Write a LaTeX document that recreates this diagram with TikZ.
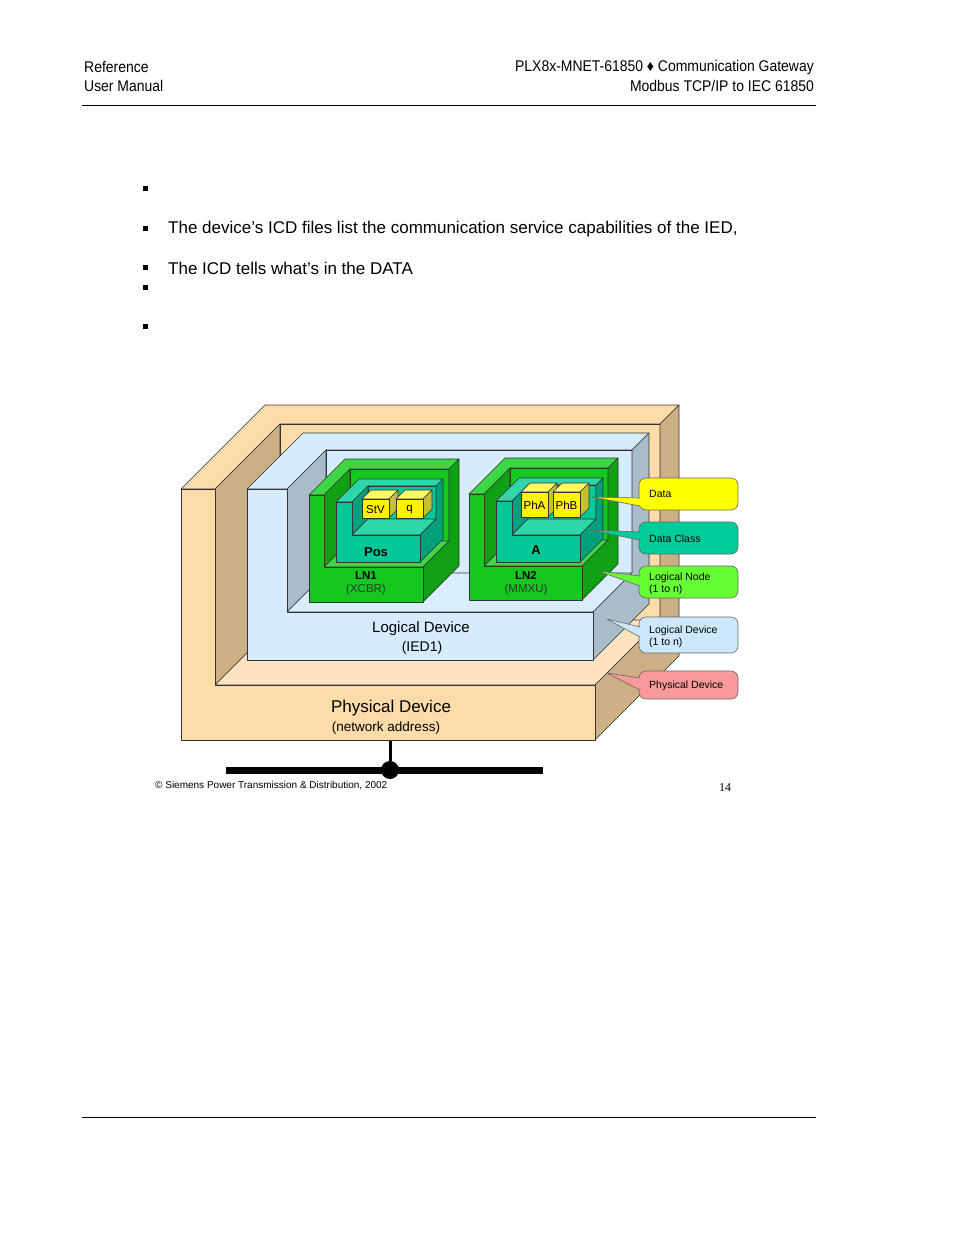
\documentclass[tikz,border=0pt]{standalone}
\usepackage{fontspec}
\setmainfont{Liberation Sans}
\newfontfamily\serifz{Liberation Serif}
\definecolor{pdFront}{HTML}{FDDCAA}\definecolor{pdTop}{HTML}{FDDCAA}\definecolor{pdSide}{HTML}{CDAF86}\definecolor{pdFloor}{HTML}{FEE3BE}
\definecolor{ldFront}{HTML}{D4ECFB}\definecolor{ldTop}{HTML}{D4ECFB}\definecolor{ldSide}{HTML}{A8BCCA}\definecolor{ldFloor}{HTML}{D8EEFC}
\definecolor{lnFront}{HTML}{14C81E}\definecolor{lnTop}{HTML}{3DD645}\definecolor{lnSide}{HTML}{10A014}\definecolor{lnFloor}{HTML}{3DD645}
\definecolor{dcFront}{HTML}{00C998}\definecolor{dcTop}{HTML}{2ED6AA}\definecolor{dcSide}{HTML}{00A07A}\definecolor{dcFloor}{HTML}{2ED6AA}
\definecolor{cData}{HTML}{FFFF00}\definecolor{cDC}{HTML}{00CC99}\definecolor{cLN}{HTML}{66FF33}\definecolor{cLD}{HTML}{CCE8FA}\definecolor{cPD}{HTML}{F99A9A}
% cupbox: X0,Y0,X1,Y1,d,t,w,f,prefix
\newcommand\cupbox[9]{%
 \filldraw[face,fill=#9Top] (#1,#2)--({#1+#5},{#2-#5})--({#3+#5},{#2-#5})--({#3+#5-#6},{#2-#5+#6})--({#1+#7+#5-#6},{#2-#5+#6})--({#1+#7},#2)--cycle;
 \filldraw[face,fill=#9Side] ({#1+#7},#2)--({#1+#7+#5-#6},{#2-#5+#6})--({#1+#7+#5-#6},{#4-#8-#5+#6})--({#1+#7},{#4-#8})--cycle;
 \filldraw[face,fill=#9Front] ({#1+#7+#5-#6},{#2-#5+#6}) rectangle ({#3+#5-#6},{#4-#8-#5+#6});
 \filldraw[face,fill=#9Floor] ({#1+#7},{#4-#8})--({#1+#7+#5-#6},{#4-#8-#5+#6})--({#3+#5-#6},{#4-#8-#5+#6})--(#3,{#4-#8})--cycle;
 \filldraw[face,fill=#9Side] ({#3+#5-#6},{#2-#5+#6})--({#3+#5},{#2-#5})--({#3+#5},{#4-#5})--(#3,#4)--(#3,{#4-#8})--({#3+#5-#6},{#4-#8-#5+#6})--cycle;
 \filldraw[face,fill=#9Front] (#1,#2)--({#1+#7},#2)--({#1+#7},{#4-#8})--(#3,{#4-#8})--(#3,#4)--(#1,#4)--cycle;
}
% cube: x0,y0,x1,y1,d,text,name
\newcommand\ycube[7]{%
 \filldraw[face,fill=yellow!60] (#1,#2)--({#1+#5},{#2-#5})--({#3+#5},{#2-#5})--(#3,#2)--cycle;
 \filldraw[face,fill=yellow!75!black] (#3,#2)--({#3+#5},{#2-#5})--({#3+#5},{#4-#5})--(#3,#4)--cycle;
 \filldraw[face,fill=yellow] (#1,#2) rectangle (#3,#4);
 \node[font=\fontsize{11.5}{12}\selectfont] (#7) at ({(#1+#3)/2},{(#2+#4)/2+1}) {#6};
}
\tikzset{face/.style={draw=black!80,line width=0.6pt,line join=round},
 callout/.style={draw=black!60,line width=0.6pt,rounded corners=7pt},
 ctext/.style={font=\fontsize{10.5}{12.5}\selectfont,anchor=west,align=left,inner sep=0pt},
 hdr/.style={font=\fontsize{15.5}{18}\selectfont,inner sep=0pt,xscale=0.9},
 body/.style={font=\fontsize{17}{20}\selectfont,inner sep=0pt,anchor=west},
 bul/.style={fill=black,minimum size=5pt,inner sep=0pt},
 ptr/.style={draw=black!60,line width=0.6pt,line join=round}}
\begin{document}
\begin{tikzpicture}[x=1pt,y=-1pt]
\useasboundingbox[fill=white] (0,0) rectangle (954,1235);
% header
\node[hdr,anchor=west] (h1) at (84,67) {Reference};
\node[hdr,anchor=west] (h2) at (84,86) {User Manual};
\node[hdr,anchor=east] (h3) at (814,67) {PLX8x-MNET-61850 ♦ Communication Gateway};
\node[hdr,anchor=east] (h4) at (814,86) {Modbus TCP/IP to IEC 61850};
\draw[line width=0.8pt] (82,105) -- (816,105);
\draw[line width=0.8pt] (82,1117) -- (816,1117);
% bullets
\foreach \yy/\nm in {188/b1,228/b2,267/b3,287/b4,326/b5} \node[bul] (\nm) at (145,\yy) {};
\node[body] (t1) at (168,229) {The device’s ICD files list the communication service capabilities of the IED,};
\node[body] (t2) at (168,268) {The ICD tells what’s in the DATA};
% diagram
\cupbox{181}{489}{595}{740}{84}{19}{34}{55}{pd}
\cupbox{247}{489}{593}{660}{56}{17}{40}{48}{ld}
\cupbox{309}{495}{423}{602}{36}{10}{15}{35}{ln}
\cupbox{469}{494}{582}{600}{36}{10}{15}{34}{ln}
\cupbox{336}{502}{420}{562}{23}{7}{16}{27}{dc}
\cupbox{496}{501}{580}{562}{23}{7}{16}{27}{dc}
\ycube{362}{499}{389}{518}{9}{StV}{stv}
\ycube{396}{499}{423}{518}{9}{q}{q}
\ycube{521}{492}{548}{517}{9}{PhA}{pha}
\ycube{553}{492}{580}{517}{9}{PhB}{phb}
\node[font=\bfseries\fontsize{13}{14}\selectfont] (pos) at (376,552) {Pos};
\node[font=\bfseries\fontsize{13}{14}\selectfont] (a) at (536,550) {A};
\node[font=\bfseries\fontsize{11.5}{12}\selectfont] (ln1) at (366,576) {LN1};
\node[font=\fontsize{11.5}{12}\selectfont,text=black!80] (ln1b) at (366,590) {(XCBR)};
\node[font=\bfseries\fontsize{11.5}{12}\selectfont] (ln2) at (526,575) {LN2};
\node[font=\fontsize{11.5}{12}\selectfont,text=black!80] (ln2b) at (526,590) {(MMXU)};
\node[font=\fontsize{15}{16}\selectfont] (ldl) at (421,629) {Logical Device};
\node[font=\fontsize{14}{15}\selectfont] (ldl2) at (422,648) {(IED1)};
\node[font=\fontsize{17}{18}\selectfont] (pdl) at (391,708) {Physical Device};
\node[font=\fontsize{13.5}{15}\selectfont] (pdl2) at (386,728) {(network address)};
% callouts
\coordinate (tD) at (592,497); \coordinate (tDC) at (590,530); \coordinate (tLN) at (598,571);
\coordinate (tLD) at (607,619); \coordinate (tPD) at (607,673);
\filldraw[callout,fill=cData] (639,478) rectangle (738,510);
\filldraw[ptr,fill=cData] (640,498)--(tD)--(640,506);
\node[ctext] (cd) at (649,494) {Data};
\filldraw[callout,fill=cDC] (639,522) rectangle (738,554);
\filldraw[ptr,fill=cDC] (640,532)--(tDC)--(640,540);
\node[ctext] (cdc) at (649,539) {Data Class};
\filldraw[callout,fill=cLN] (639,566) rectangle (738,598);
\filldraw[ptr,fill=cLN] (640,576)--(tLN)--(640,586);
\node[ctext] (cln) at (649,584) {Logical Node\\(1 to n)};
\filldraw[callout,fill=cLD] (639,617) rectangle (738,653);
\filldraw[ptr,fill=cLD] (640,627)--(tLD)--(640,637);
\node[ctext] (cld) at (649,637) {Logical Device\\(1 to n)};
\filldraw[callout,fill=cPD] (639,671) rectangle (738,699);
\filldraw[ptr,fill=cPD] (640,678)--(tPD)--(640,690);
\node[ctext] (cpd) at (649,686) {Physical Device};
% network
\coordinate (n0) at (226,770); \coordinate (n1) at (543,770); \coordinate (nd) at (390,741);
\node[circle,fill=black,minimum size=18pt,inner sep=0pt] (dot) at (390,770) {};
\draw[line width=7pt] (n0) -- (n1);
\draw[line width=3pt] (nd) -- (dot);
\node[font=\fontsize{10}{11}\selectfont,anchor=west,inner sep=0pt] (cr) at (155,786) {© Siemens Power Transmission \& Distribution, 2002};
\node[font=\serifz\fontsize{12}{13}\selectfont,inner sep=0pt] (pg) at (725,788) {14};
\end{tikzpicture}
\end{document}
